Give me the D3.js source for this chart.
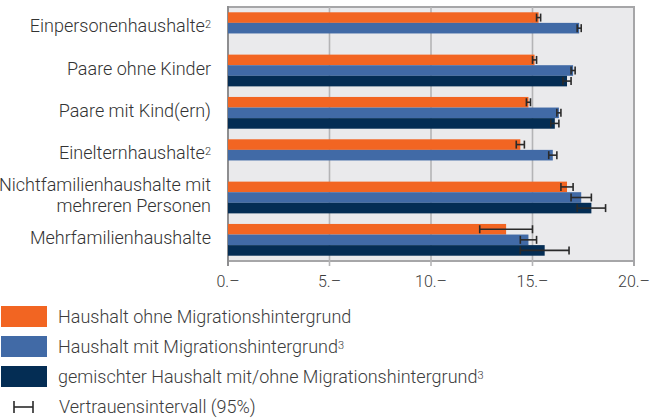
<!DOCTYPE html>
<meta charset="utf-8">
<style>
body {
    margin: 0px;
    font-family: Roboto, "Open Sans", sans-serif;
    font-weight: 300;
    background: white;
}
.cat-label {
  font-size: 18px;
  fill: #333;
}
.tick-label {
  font-size: 16px;
  fill: #3c3c3c;
}
.legend-label {
  font-size: 18px;
  fill: #3c3c3c;
}
</style>
<body>
<script src="https://d3js.org/d3.v7.min.js"></script>
<script>
var width = 652,
    height = 418

// Categories (line breaks with "|", superscripts with "^")
var categories = ["Einpersonenhaushalte^2", "Paare ohne Kinder", "Paare mit Kind(ern)",
                  "Einelternhaushalte^2", "Nichtfamilienhaushalte mit|mehreren Personen", "Mehrfamilienhaushalte"]

var seriesNames = ["Haushalt ohne Migrationshintergrund", "Haushalt mit Migrationshintergrund^3",
                   "gemischter Haushalt mit/ohne Migrationshintergrund^3"]

var ohneMig   = [15.3, 15.1, 14.8, 14.4, 16.7, 13.7]
var ohneLow   = [15.2, 15.0, 14.7, 14.2, 16.4, 12.4]
var ohneHigh  = [15.4, 15.2, 14.9, 14.6, 17.0, 15.0]

var mitMig    = [17.3, 17.0, 16.3, 16.0, 17.4, 14.8]
var mitLow    = [17.2, 16.9, 16.2, 15.8, 16.9, 14.4]
var mitHigh   = [17.4, 17.1, 16.4, 16.2, 17.9, 15.2]

var gemischt  = [null, 16.7, 16.1, null, 17.9, 15.6]
var gemLow    = [null, 16.5, 15.9, null, 17.2, 14.4]
var gemHigh   = [null, 16.9, 16.3, null, 18.6, 16.8]

var tickValues = [0, 5, 10, 15, 20]

var colors = ["#f26522", "#416aa6", "#042d54"]

var series = [
  {name: seriesNames[0], values: ohneMig, lo: ohneLow, hi: ohneHigh},
  {name: seriesNames[1], values: mitMig, lo: mitLow, hi: mitHigh},
  {name: seriesNames[2], values: gemischt, lo: gemLow, hi: gemHigh}
]

var svg = d3.select("body").append("svg")
    .attr("width", width)
    .attr("height", height)

var plotLeft = 228, plotRight = 634, plotTop = 7, plotBottom = 261

var x = d3.scaleLinear()
    .domain([0, 20])
    .range([plotLeft, plotRight])

var y = d3.scaleBand()
    .domain(categories)
    .range([plotTop, plotBottom])
    .paddingInner(0.25)
    .paddingOuter(0.125)

var ySub = d3.scaleBand()
    .domain(d3.range(series.length))
    .range([0, y.bandwidth()])

// plot background
svg.append("rect")
    .attr("x", plotLeft)
    .attr("y", plotTop)
    .attr("width", plotRight - plotLeft)
    .attr("height", plotBottom - plotTop)
    .attr("fill", "#eaeaec")
    .attr("stroke", "#a6a6a8")
    .attr("stroke-width", 2)

// grid lines + ticks
svg.selectAll(".grid")
    .data(tickValues.slice(1, -1))
    .enter().append("line")
    .attr("x1", function(d) { return x(d) })
    .attr("x2", function(d) { return x(d) })
    .attr("y1", plotTop)
    .attr("y2", plotBottom + 5)
    .attr("stroke", "#b4b4b6")
    .attr("stroke-width", 1.6)

svg.selectAll(".tick-mark")
    .data([0, 20])
    .enter().append("line")
    .attr("x1", function(d) { return x(d) })
    .attr("x2", function(d) { return x(d) })
    .attr("y1", plotBottom)
    .attr("y2", plotBottom + 5)
    .attr("stroke", "#a6a6a8")
    .attr("stroke-width", 2)

// left axis line a little darker
svg.append("line")
    .attr("x1", plotLeft).attr("x2", plotLeft)
    .attr("y1", plotTop - 1).attr("y2", plotBottom + 5)
    .attr("stroke", "#8e8e90")
    .attr("stroke-width", 2)

svg.selectAll(".tick-label")
    .data(tickValues)
    .enter().append("text")
    .attr("class", "tick-label")
    .attr("x", function(d) { return x(d) })
    .attr("y", 287)
    .attr("text-anchor", "middle")
    .text(function(d) { return d + ".–" })

// bars
series.forEach(function(s, si) {
  var g = svg.append("g")
  categories.forEach(function(c, ci) {
    var v = s.values[ci]
    if (v == null) return
    var y0 = y(c) + ySub(si)
    g.append("rect")
      .attr("x", x(0))
      .attr("y", y0)
      .attr("width", x(v) - x(0))
      .attr("height", ySub.bandwidth())
      .attr("fill", colors[si])
  })
})

// error bars
series.forEach(function(s, si) {
  categories.forEach(function(c, ci) {
    if (s.values[ci] == null) return
    var yc = y(c) + ySub(si) + ySub.bandwidth() / 2
    var g = svg.append("g")
        .attr("stroke", "#2a2a2a")
        .attr("stroke-width", 1.6)
    g.append("line")
      .attr("x1", x(s.lo[ci])).attr("x2", x(s.hi[ci]))
      .attr("y1", yc).attr("y2", yc)
    g.append("line")
      .attr("x1", x(s.lo[ci])).attr("x2", x(s.lo[ci]))
      .attr("y1", yc - 4).attr("y2", yc + 4)
    g.append("line")
      .attr("x1", x(s.hi[ci])).attr("x2", x(s.hi[ci]))
      .attr("y1", yc - 4).attr("y2", yc + 4)
  })
})

// helper for text with superscripts and line breaks
function writeLabel(sel, label, lineHeight) {
  var lines = label.split("|")
  var y0 = -(lines.length - 1) * lineHeight / 2
  lines.forEach(function(line, i) {
    var parts = line.split("^")
    sel.append("tspan")
      .attr("x", 0)
      .attr("y", y0 + i * lineHeight)
      .attr("dy", "0.35em")
      .text(parts[0])
    if (parts[1]) {
      sel.append("tspan")
        .attr("dy", "-0.4em")
        .style("font-size", "11px")
        .text(parts[1])
    }
  })
}

// category labels
categories.forEach(function(c) {
  var t = svg.append("text")
    .attr("class", "cat-label")
    .attr("text-anchor", "end")
    .attr("transform", "translate(211," + (y(c) + y.bandwidth() / 2 - 2) + ")")
  writeLabel(t, c, 21)
})

// legend
var legend = svg.append("g")
series.forEach(function(s, i) {
  var ly = 306 + i * 30
  legend.append("rect")
    .attr("x", 1).attr("y", ly)
    .attr("width", 46).attr("height", 21)
    .attr("fill", colors[i])
  var t = legend.append("text")
    .attr("class", "legend-label")
    .attr("transform", "translate(58," + (ly + 11) + ")")
  writeLabel(t, s.name, 18)
})

var ciY = 407
var ci = legend.append("g").attr("stroke", "#2a2a2a").attr("stroke-width", 1.6)
ci.append("line").attr("x1", 14).attr("x2", 33).attr("y1", ciY).attr("y2", ciY)
ci.append("line").attr("x1", 14).attr("x2", 14).attr("y1", ciY - 6).attr("y2", ciY + 6)
ci.append("line").attr("x1", 33).attr("x2", 33).attr("y1", ciY - 6).attr("y2", ciY + 6)
legend.append("text")
  .attr("class", "legend-label")
  .attr("x", 59)
  .attr("y", ciY)
  .attr("dy", "0.35em")
  .text("Vertrauensintervall (95%)")
</script>
